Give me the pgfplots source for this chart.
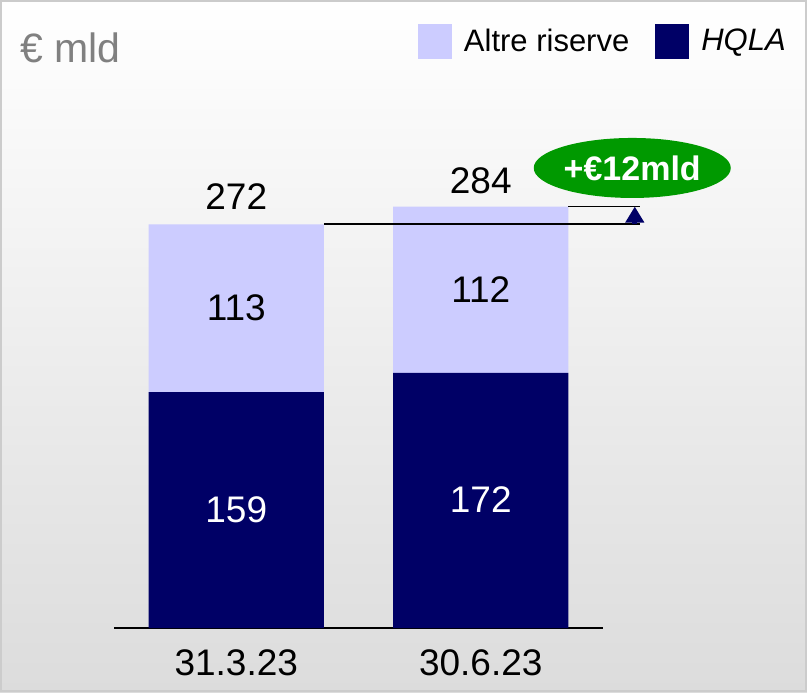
\documentclass[border=0pt]{standalone}
\usepackage{fontspec}
\setmainfont{Liberation Sans}
\usepackage{pgfplots}
\pgfplotsset{compat=1.18}
\usetikzlibrary{arrows.meta,shapes.geometric}
\definecolor{hqla}{HTML}{000066}
\definecolor{altre}{HTML}{CCCCFF}
\definecolor{piugreen}{HTML}{009900}
\definecolor{bgbottom}{HTML}{DCDCDC}
\newcommand{\lblfont}{\fontsize{18.5}{22}\selectfont}

\begin{document}
\begin{tikzpicture}
\useasboundingbox (0,0) rectangle (403.5pt,-346pt);
\shade[top color=white,bottom color=bgbottom] (0,0) rectangle (403.5pt,-346pt);
\draw[gray!40,line width=1pt] (0.5pt,-0.5pt) rectangle (403pt,-345.5pt);
\node[anchor=west,text=gray,font=\fontsize{20.5}{24}\selectfont,inner sep=0] at (10pt,-23.75pt) {€ mld};
\begin{axis}[
 at={(57pt,-314pt)},anchor=south west,
 x=122.25pt,y=0.742pt,
 xmin=-0.5,xmax=1.5,ymin=0,ymax=356,
 ybar stacked,bar width=0.716,
 axis x line*=bottom,axis y line=none,
 axis line style={black,line width=0.9pt,-},
 xtick={0,1},xticklabels={31.3.23,30.6.23},
 major tick length=0pt,
 xticklabel style={anchor=center,yshift=-17.5pt,font=\lblfont},
 ytick=\empty,
 clip=false,
 legend columns=2,reverse legend,
 legend style={at={(1.395,1.152)},anchor=north east,draw=none,fill=none,
   font=\fontsize{15.5}{18}\selectfont,
   /tikz/every odd column/.append style={column sep=4pt},
   /tikz/every even column/.append style={column sep=11pt}},
 legend image code/.code={\draw[#1,draw=none] (0pt,-8.75pt) rectangle (17pt,8.75pt);},
]
\addplot[fill=hqla,draw=none] coordinates {(0,159) (1,172)};
\addplot[fill=altre,draw=none] coordinates {(0,113) (1,112)};
\legend{\textit{HQLA},Altre riserve}

\coordinate (h1) at (axis cs:0,79.5);
\coordinate (h2) at (axis cs:1,86.3);
\coordinate (a1) at (axis cs:0,215.6);
\coordinate (a2) at (axis cs:1,227.8);
\coordinate (t1) at (axis cs:0,290.4);
\coordinate (t2) at (axis cs:1,301.2);
\coordinate (l1s) at (axis cs:0.358,272);
\coordinate (l1e) at (axis cs:1.65,272);
\coordinate (l2s) at (axis cs:1.358,284);
\coordinate (l2e) at (axis cs:1.65,284);
\coordinate (ar0) at (axis cs:1.63,272);
\coordinate (ar1) at (axis cs:1.63,284);
\coordinate (el) at (axis cs:1.6196,310);
\end{axis}
\node[text=white,font=\lblfont] at (h1) {159};
\node[text=white,font=\lblfont] at (h2) {172};
\node[font=\lblfont] at (a1) {113};
\node[font=\lblfont] at (a2) {112};
\node[font=\lblfont] at (t1) {272};
\node[font=\lblfont] at (t2) {284};
\draw[black,line width=0.9pt] (l1s) -- (l1e);
\draw[black,line width=0.9pt] (l2s) -- (l2e);
\draw[hqla,line width=2.5pt,-{Triangle[width=9pt,length=8pt]}] (ar0) -- (ar1);
\node[ellipse,fill=piugreen,minimum width=98.5pt,minimum height=30pt,inner sep=0,
  text=white,font=\bfseries\fontsize{17}{20}\selectfont] at (el) {+€12mld};
\end{tikzpicture}
\end{document}
